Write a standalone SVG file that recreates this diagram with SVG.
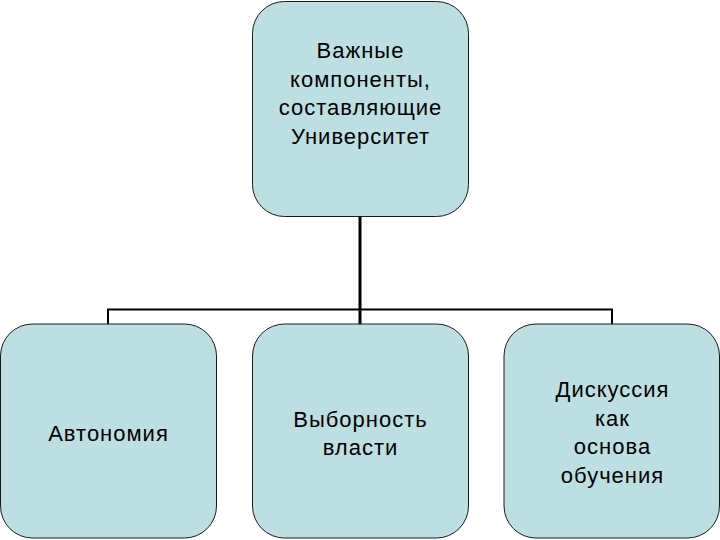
<svg xmlns="http://www.w3.org/2000/svg" width="720" height="540" viewBox="0 0 720 540">
<style>
.box{fill:#BDDFE2;stroke:#1a1a1a;stroke-width:1}
.t{font-family:"Liberation Sans",Arial,sans-serif;font-size:22px;letter-spacing:1px;fill:#000;text-anchor:middle}
.c{fill:none;stroke:#000}
</style>
<rect width="720" height="540" fill="#fff"/>
<g id="connectors">
<line class="c" x1="360" y1="216" x2="360" y2="324" stroke-width="3"/>
<polyline class="c" points="108,324 108,309.5 612,309.5 612,324" stroke-width="2"/>
</g>
<g id="root">
<rect class="box" x="252.5" y="1.5" width="216" height="215" rx="32"/>
<text class="t" x="360.5" y="58">Важные</text>
<text class="t" x="360.5" y="86.7">компоненты,</text>
<text class="t" x="360.5" y="115.3">составляющие</text>
<text class="t" x="360.5" y="144">Университет</text>
</g>
<g id="autonomy">
<rect class="box" x="0.5" y="324" width="216" height="214" rx="32"/>
<text class="t" x="108.5" y="441">Автономия</text>
</g>
<g id="elect">
<rect class="box" x="252.5" y="324" width="216" height="214" rx="32"/>
<text class="t" x="360.5" y="426.5">Выборность</text>
<text class="t" x="360.5" y="455">власти</text>
</g>
<g id="discussion">
<rect class="box" x="504" y="324" width="215.5" height="214" rx="32"/>
<text class="t" x="612.5" y="397">Дискуссия</text>
<text class="t" x="612.5" y="425.5">как</text>
<text class="t" x="612.5" y="454">основа</text>
<text class="t" x="612.5" y="482.5">обучения</text>
</g>
</svg>
